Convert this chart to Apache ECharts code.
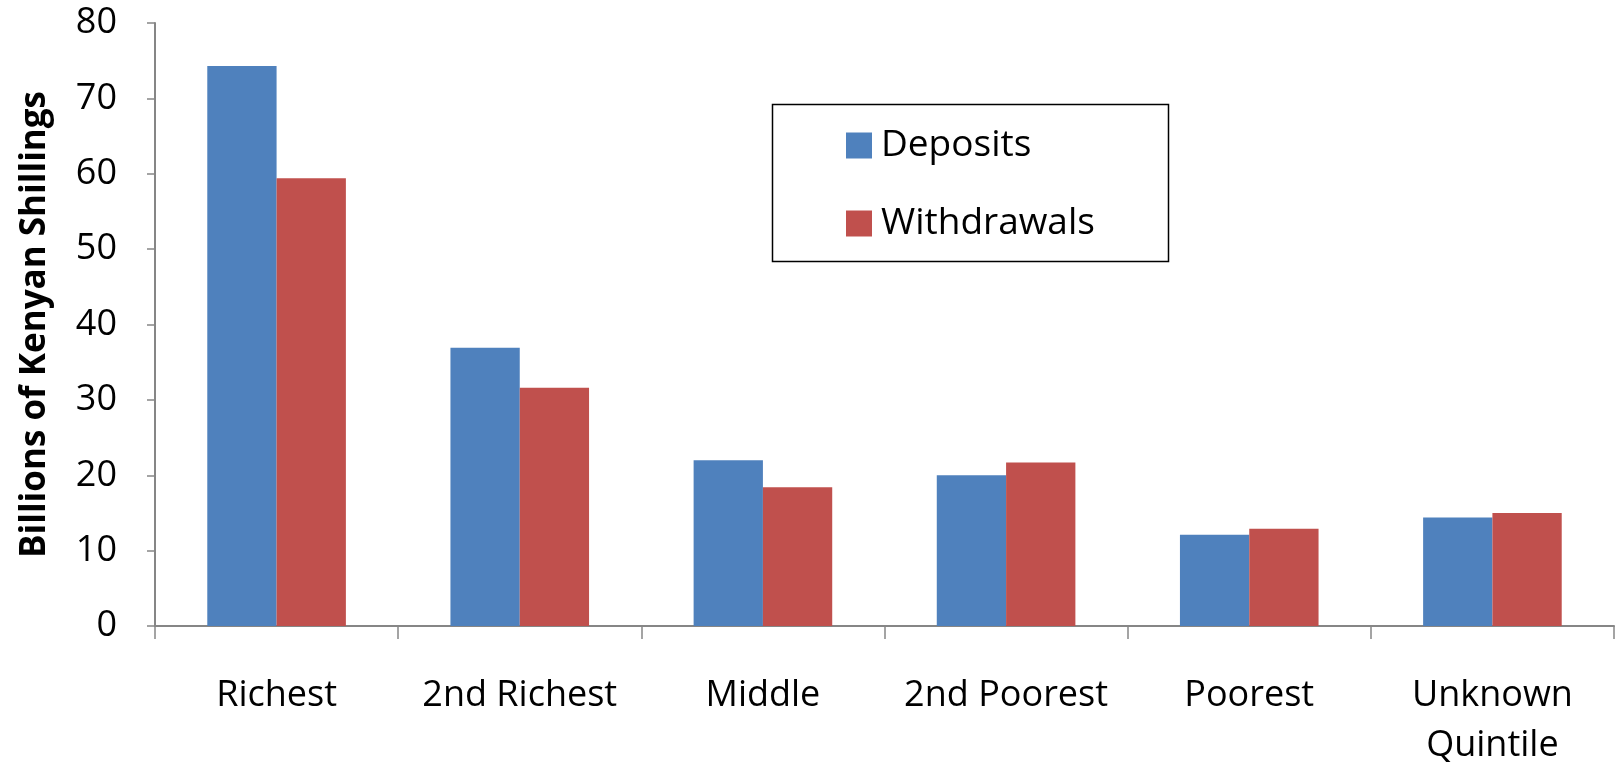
<!DOCTYPE html>
<html>
<head>
<meta charset="utf-8">
<script src="https://cdn.jsdelivr.net/npm/echarts@6/dist/echarts.min.js"></script>
<style>html,body{margin:0;padding:0;background:#fff}#c{width:1617px;height:765px}</style>
</head>
<body>
<div id="c"></div>
<script>
const categories = ['Richest', '2nd Richest', 'Middle', '2nd Poorest', 'Poorest', 'Unknown\nQuintile'];
const deposits = [74.3, 36.9, 22.0, 20.0, 12.1, 14.4];
const withdrawals = [59.4, 31.6, 18.4, 21.7, 12.9, 15.0];
const yTicks = [0, 80, 10]; // min, max, interval

const FONT = 'Open Sans';
const chart = echarts.init(document.getElementById('c'), null, {renderer: 'canvas'});
chart.setOption({
  animation: false,
  backgroundColor: '#fff',
  textStyle: {fontFamily: FONT},
  grid: {left: 155, right: 3, top: 23, bottom: 139, containLabel: false, outerBoundsMode: 'none'},
  legend: {
    orient: 'vertical',
    left: 841, top: 122,
    itemWidth: 26, itemHeight: 26, itemGap: 41,
    icon: 'rect',
    textStyle: {fontFamily: FONT, fontSize: 37, color: '#000', padding: [0, 0, 0, 4]},
    data: ['Deposits', 'Withdrawals']
  },
  graphic: [{
    type: 'rect', left: 770, top: 102,
    shape: {width: 396, height: 157},
    style: {fill: 'none', stroke: '#000', lineWidth: 1.5},
    z: 10
  }],
  xAxis: {
    type: 'category',
    data: categories,
    axisLine: {lineStyle: {color: '#868686', width: 2}},
    axisTick: {show: true, length: 13, lineStyle: {color: '#868686', width: 1.5}},
    axisLabel: {color: '#000', fontFamily: FONT, fontSize: 36, margin: 45, lineHeight: 50, verticalAlign: 'top', interval: 0}
  },
  yAxis: {
    type: 'value',
    min: yTicks[0], max: yTicks[1], interval: yTicks[2],
    name: 'Billions of Kenyan Shillings',
    nameLocation: 'middle',
    nameGap: 102,
    nameTextStyle: {color: '#000', fontFamily: FONT, fontSize: 35, fontWeight: 'bold'},
    axisLine: {show: true, lineStyle: {color: '#868686', width: 2}},
    axisTick: {show: true, length: 8, lineStyle: {color: '#868686', width: 1.5}},
    splitLine: {show: false},
    axisLabel: {color: '#000', fontFamily: FONT, fontSize: 36, margin: 38}
  },
  series: [
    {name: 'Deposits', type: 'bar', data: deposits, barGap: '0%', barCategoryGap: '43%',
     itemStyle: {color: '#4F81BD'}},
    {name: 'Withdrawals', type: 'bar', data: withdrawals, barGap: '0%', barCategoryGap: '43%',
     itemStyle: {color: '#C0504D'}}
  ]
});
</script>
</body>
</html>
